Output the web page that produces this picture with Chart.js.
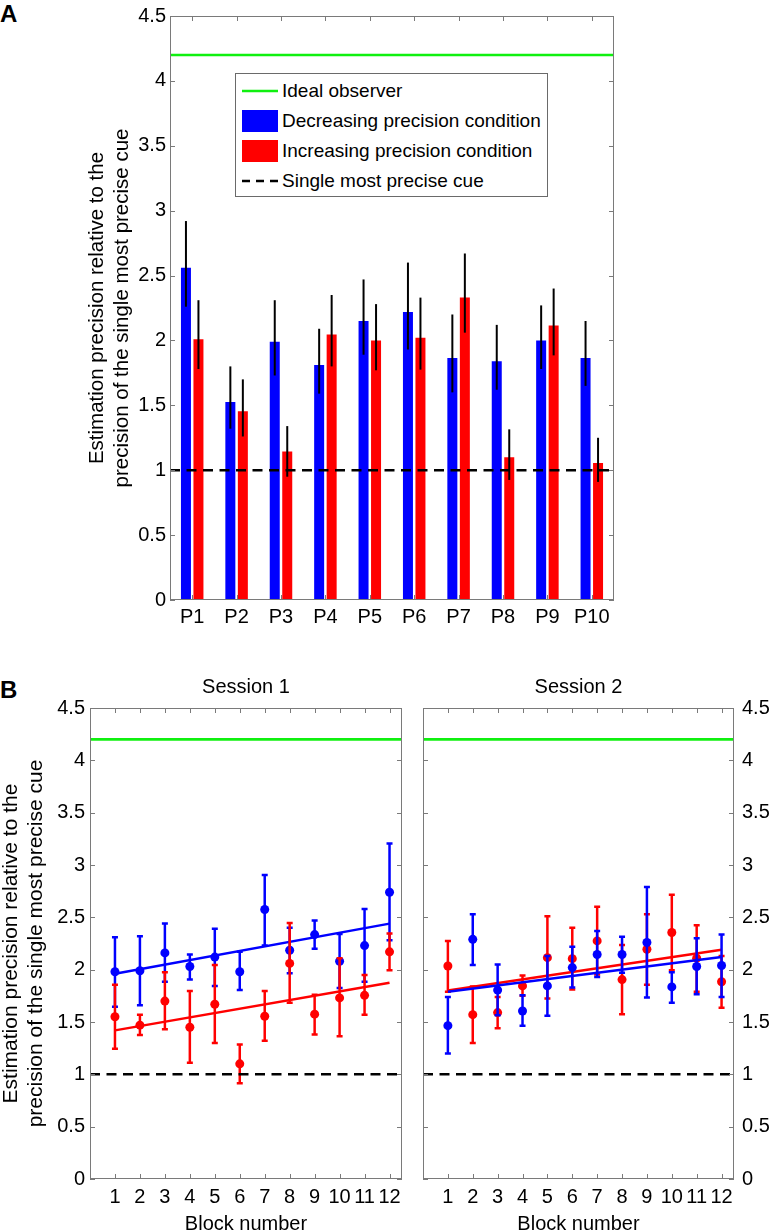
<!DOCTYPE html>
<html>
<head>
<meta charset="utf-8">
<title>Estimation precision</title>
<script src="https://cdn.jsdelivr.net/npm/chart.js@4.4.1/dist/chart.umd.min.js"></script>
<style>
    html, body { margin: 0; padding: 0; background: #fff; overflow: hidden; }
    body { position: relative; width: 770px; height: 1232px; font-family: "Liberation Sans", Arial, Helvetica, sans-serif; }
    .pane { position: absolute; }
    .letter { position: absolute; left: 0; font-weight: bold; font-size: 24px; line-height: 24px; }
    #legendA { position: absolute; left: 235px; top: 73px; width: 313px; height: 124px; box-sizing: border-box;
               border: 1px solid #6a6a6a; background: #fff; padding-top: 2px; font-size: 19px; }
    #legendA .row { display: flex; align-items: center; height: 30px; }
    #legendA svg { margin-left: 6px; margin-right: 4px; flex: none; }
</style>
</head>
<body>

<div class="letter" style="top:2px">A</div>
<div class="letter" style="top:678px">B</div>

<canvas id="chartA" class="pane" style="left:0;top:0" width="770" height="660"></canvas>
<canvas id="chartB1" class="pane" style="left:0;top:660px" width="410" height="580"></canvas>
<canvas id="chartB2" class="pane" style="left:410px;top:660px" width="360" height="580"></canvas>

<div id="legendA">
    <div class="row"><svg width="36" height="22"><line x1="0" y1="11" x2="36" y2="11" stroke="#10f010" stroke-width="2.5"/></svg>Ideal observer</div>
    <div class="row"><svg width="36" height="22"><rect width="36" height="22" fill="#0000ff"/></svg>Decreasing precision condition</div>
    <div class="row"><svg width="36" height="22"><rect width="36" height="22" fill="#ff0000"/></svg>Increasing precision condition</div>
    <div class="row"><svg width="36" height="22"><line x1="0" y1="11" x2="36" y2="11" stroke="#000" stroke-width="2.5" stroke-dasharray="8,6"/></svg>Single most precise cue</div>
</div>

<script>
// ---- data, panel A ----
const participants = ["P1", "P2", "P3", "P4", "P5", "P6", "P7", "P8", "P9", "P10"];

const decMean = [2.56, 1.525, 1.99, 1.81, 2.15, 2.22, 1.865, 1.84, 2.00, 1.865];
const decHigh = [2.92, 1.80, 2.31, 2.09, 2.47, 2.60, 2.20, 2.12, 2.27, 2.15];
const decLow  = [2.26, 1.32, 1.73, 1.59, 1.89, 1.93, 1.60, 1.62, 1.78, 1.65];

const incMean = [2.01, 1.455, 1.145, 2.045, 2.00, 2.02, 2.33, 1.10, 2.115, 1.055];
const incHigh = [2.31, 1.70, 1.34, 2.35, 2.28, 2.33, 2.67, 1.315, 2.40, 1.25];
const incLow  = [1.78, 1.26, 0.95, 1.80, 1.77, 1.775, 2.06, 0.925, 1.885, 0.91];

const idealObserver = 4.2;
const singleCue = 1;

// ---- data, panel B ----
const blocks = [1, 2, 3, 4, 5, 6, 7, 8, 9, 10, 11, 12];
const fitBlocks = [1, 12];

const s1DecMean = [1.98, 1.99, 2.16, 2.03, 2.12, 1.98, 2.575, 2.185, 2.335, 2.08, 2.23, 2.74];
const s1DecHigh = [2.31, 2.32, 2.44, 2.145, 2.39, 2.17, 2.905, 2.40, 2.47, 2.34, 2.58, 3.205];
const s1DecLow  = [1.645, 1.66, 1.885, 1.905, 1.845, 1.805, 2.23, 1.965, 2.20, 1.825, 1.885, 2.28];
const s1IncMean = [1.55, 1.47, 1.70, 1.45, 1.67, 1.10, 1.555, 2.06, 1.575, 1.73, 1.755, 2.17];
const s1IncHigh = [1.855, 1.57, 1.975, 1.795, 2.045, 1.285, 1.795, 2.445, 1.76, 2.11, 1.95, 2.345];
const s1IncLow  = [1.245, 1.375, 1.43, 1.11, 1.30, 0.915, 1.32, 1.685, 1.38, 1.365, 1.57, 1.995];
const s1DecFit  = [1.96, 2.44];
const s1IncFit  = [1.42, 1.875];

const s2DecMean = [1.465, 2.29, 1.805, 1.605, 1.845, 2.02, 2.145, 2.145, 2.26, 1.835, 2.03, 2.04];
const s2DecHigh = [1.74, 2.53, 2.05, 1.755, 2.13, 2.22, 2.37, 2.315, 2.79, 1.975, 2.30, 2.335];
const s2DecLow  = [1.20, 2.045, 1.565, 1.465, 1.56, 1.83, 1.93, 1.97, 1.735, 1.685, 1.765, 1.74];
const s2IncMean = [2.035, 1.57, 1.59, 1.845, 2.115, 2.105, 2.275, 1.905, 2.195, 2.355, 2.11, 1.885];
const s2IncHigh = [2.275, 1.84, 1.74, 1.945, 2.51, 2.40, 2.60, 2.235, 2.53, 2.715, 2.425, 2.13];
const s2IncLow  = [1.79, 1.30, 1.44, 1.75, 1.725, 1.81, 1.955, 1.575, 1.855, 1.995, 1.79, 1.635];
const s2DecFit  = [1.79, 2.12];
const s2IncFit  = [1.80, 2.19];

const yTitle = ["Estimation precision relative to the", "precision of the single most precise cue"];

const BLUE = "#0000ff";
const RED = "#ff0000";
const GREEN = "#10f010";
const FRAME = "#7a7a7a";

Chart.defaults.font.family = '"Liberation Sans", Arial, Helvetica, sans-serif';
Chart.defaults.color = "#000";
Chart.defaults.animation = false;
Chart.defaults.events = [];
Chart.defaults.plugins.legend.display = false;
Chart.defaults.plugins.tooltip.enabled = false;

/*
 * error bars, drawn right after their own dataset
 */
const errorBars = {
    id: "errorBars",
    afterDatasetDraw(chart, args) {
        const ds = chart.data.datasets[args.index];
        if (!ds.errLow) return;
        const y = chart.scales.y;
        const ctx = chart.ctx;
        ctx.save();
        ctx.strokeStyle = ds.errColor;
        ctx.lineWidth = ds.errWidth;
        args.meta.data.forEach((el, i) => {
            const top = y.getPixelForValue(ds.errHigh[i]);
            const bot = y.getPixelForValue(ds.errLow[i]);
            ctx.beginPath();
            ctx.moveTo(el.x, top);
            ctx.lineTo(el.x, bot);
            if (ds.capWidth) {
                ctx.moveTo(el.x - ds.capWidth / 2, top);
                ctx.lineTo(el.x + ds.capWidth / 2, top);
                ctx.moveTo(el.x - ds.capWidth / 2, bot);
                ctx.lineTo(el.x + ds.capWidth / 2, bot);
            }
            ctx.stroke();
        });
        ctx.restore();
    }
};

/*
 * ideal observer + single cue lines, box and inward ticks
 */
const frame = {
    id: "frame",
    afterDatasetsDraw(chart) {
        const { ctx, chartArea: a, scales: { x, y } } = chart;
        ctx.save();

        let py = y.getPixelForValue(idealObserver);
        ctx.strokeStyle = GREEN;
        ctx.lineWidth = 2.6;
        ctx.beginPath();
        ctx.moveTo(a.left, py);
        ctx.lineTo(a.right, py);
        ctx.stroke();

        py = y.getPixelForValue(singleCue);
        ctx.strokeStyle = "#000";
        ctx.lineWidth = 2.5;
        ctx.setLineDash([10, 6.5]);
        ctx.beginPath();
        ctx.moveTo(a.left, py);
        ctx.lineTo(a.right, py);
        ctx.stroke();
        ctx.setLineDash([]);

        const t = 5;
        ctx.strokeStyle = FRAME;
        ctx.lineWidth = 1;
        ctx.beginPath();
        x.ticks.forEach((tk, i) => {
            const px = Math.round(x.getPixelForTick(i)) + 0.5;
            ctx.moveTo(px, a.bottom);
            ctx.lineTo(px, a.bottom - t);
            ctx.moveTo(px, a.top);
            ctx.lineTo(px, a.top + t);
        });
        y.ticks.forEach((tk, i) => {
            const pyy = Math.round(y.getPixelForTick(i)) + 0.5;
            ctx.moveTo(a.left, pyy);
            ctx.lineTo(a.left + t, pyy);
            ctx.moveTo(a.right, pyy);
            ctx.lineTo(a.right - t, pyy);
        });
        ctx.stroke();
        ctx.strokeRect(a.left + 0.5, a.top + 0.5, a.right - a.left - 1, a.bottom - a.top - 1);
        ctx.restore();
    }
};

/*
 * session title centred over the plot area
 */
const panelTitle = {
    id: "panelTitle",
    afterDraw(chart, args, opts) {
        if (!opts.text) return;
        const { ctx, chartArea: a } = chart;
        ctx.save();
        ctx.font = "20px " + Chart.defaults.font.family;
        ctx.fillStyle = "#000";
        ctx.textAlign = "center";
        ctx.textBaseline = "middle";
        ctx.fillText(opts.text, (a.left + a.right) / 2, opts.y);
        ctx.restore();
    }
};

const yTicks = {
    min: 0,
    max: 4.5,
    ticks: { stepSize: 0.5, font: { size: 20 }, callback: v => String(v) },
    grid: { display: false, drawTicks: false },
    border: { display: false }
};

/*
 * Panel A
 */
new Chart(document.getElementById("chartA"), {
    type: "bar",
    data: {
        labels: participants,
        datasets: [
            {
                data: decMean,
                backgroundColor: BLUE,
                borderWidth: 0,
                errLow: decLow, errHigh: decHigh, errColor: "#000", errWidth: 2
            },
            {
                data: incMean,
                backgroundColor: RED,
                borderWidth: 0,
                errLow: incLow, errHigh: incHigh, errColor: "#000", errWidth: 2
            }
        ]
    },
    options: {
        responsive: false,
        categoryPercentage: 0.563,
        barPercentage: 0.8,
        layout: { padding: { left: 0, top: 7, right: 156, bottom: 0 } },
        scales: {
            x: {
                grid: { display: false, drawTicks: false },
                border: { display: false },
                ticks: { font: { size: 20 }, padding: 5 },
                afterFit: s => { s.height = 60; }
            },
            y: {
                ...yTicks,
                ticks: { ...yTicks.ticks, padding: 4 },
                title: {
                    display: true,
                    text: yTitle,
                    font: { size: 20.5, lineHeight: "25px" },
                    padding: { top: 84.5, bottom: 0 }
                },
                afterFit: s => { s.width = 170; }
            }
        }
    },
    plugins: [errorBars, frame]
});

/*
 * Panel B, one chart per session
 */
function points(xs, ys) {
    return xs.map((v, i) => ({ x: v, y: ys[i] }));
}

function sessionChart(id, title, d, left) {
    const redFirst = d.redOnTop;
    return new Chart(document.getElementById(id), {
        type: "scatter",
        data: {
            datasets: [
                {
                    type: "line",
                    data: points(fitBlocks, d.decFit),
                    borderColor: BLUE,
                    borderWidth: 2.5,
                    pointRadius: 0,
                    order: redFirst ? 3 : 1
                },
                {
                    type: "line",
                    data: points(fitBlocks, d.incFit),
                    borderColor: RED,
                    borderWidth: 2.5,
                    pointRadius: 0,
                    order: redFirst ? 1 : 3
                },
                {
                    data: points(blocks, d.decMean),
                    backgroundColor: BLUE,
                    borderWidth: 0,
                    pointRadius: 4.5,
                    errLow: d.decLow, errHigh: d.decHigh, errColor: BLUE, errWidth: 2.5, capWidth: 6,
                    order: redFirst ? 2 : 0
                },
                {
                    data: points(blocks, d.incMean),
                    backgroundColor: RED,
                    borderWidth: 0,
                    pointRadius: 4.5,
                    errLow: d.incLow, errHigh: d.incHigh, errColor: RED, errWidth: 2.5, capWidth: 6,
                    order: redFirst ? 0 : 2
                }
            ]
        },
        options: {
            responsive: false,
            layout: { padding: left ? { left: 0, top: 48, right: 8, bottom: 0 } : { left: 13, top: 48, right: 0, bottom: 0 } },
            plugins: { panelTitle: { text: title, y: 27 } },
            scales: {
                x: {
                    type: "linear",
                    min: 0,
                    max: 12.5,
                    afterBuildTicks: s => { s.ticks = blocks.map(v => ({ value: v })); },
                    ticks: { font: { size: 20 }, padding: 6, callback: v => String(v) },
                    grid: { display: false, drawTicks: false },
                    border: { display: false },
                    title: {
                        display: true,
                        text: "Block number",
                        font: { size: 20 },
                        padding: { top: 0, bottom: 4 }
                    },
                    afterFit: s => { s.height = 61; }
                },
                y: {
                    ...yTicks,
                    position: left ? "left" : "right",
                    ticks: { ...yTicks.ticks, padding: left ? 5 : 8 },
                    title: {
                        display: left,
                        text: yTitle,
                        font: { size: 21, lineHeight: "25px" },
                        padding: { top: -1.5, bottom: 0 }
                    },
                    afterFit: s => { s.width = left ? 90 : 36; }
                }
            }
        },
        plugins: [errorBars, frame, panelTitle]
    });
}

sessionChart("chartB1", "Session 1", {
    decMean: s1DecMean, decHigh: s1DecHigh, decLow: s1DecLow, decFit: s1DecFit,
    incMean: s1IncMean, incHigh: s1IncHigh, incLow: s1IncLow, incFit: s1IncFit,
    redOnTop: true
}, true);

sessionChart("chartB2", "Session 2", {
    decMean: s2DecMean, decHigh: s2DecHigh, decLow: s2DecLow, decFit: s2DecFit,
    incMean: s2IncMean, incHigh: s2IncHigh, incLow: s2IncLow, incFit: s2IncFit,
    redOnTop: false
}, false);
</script>
</body>
</html>
